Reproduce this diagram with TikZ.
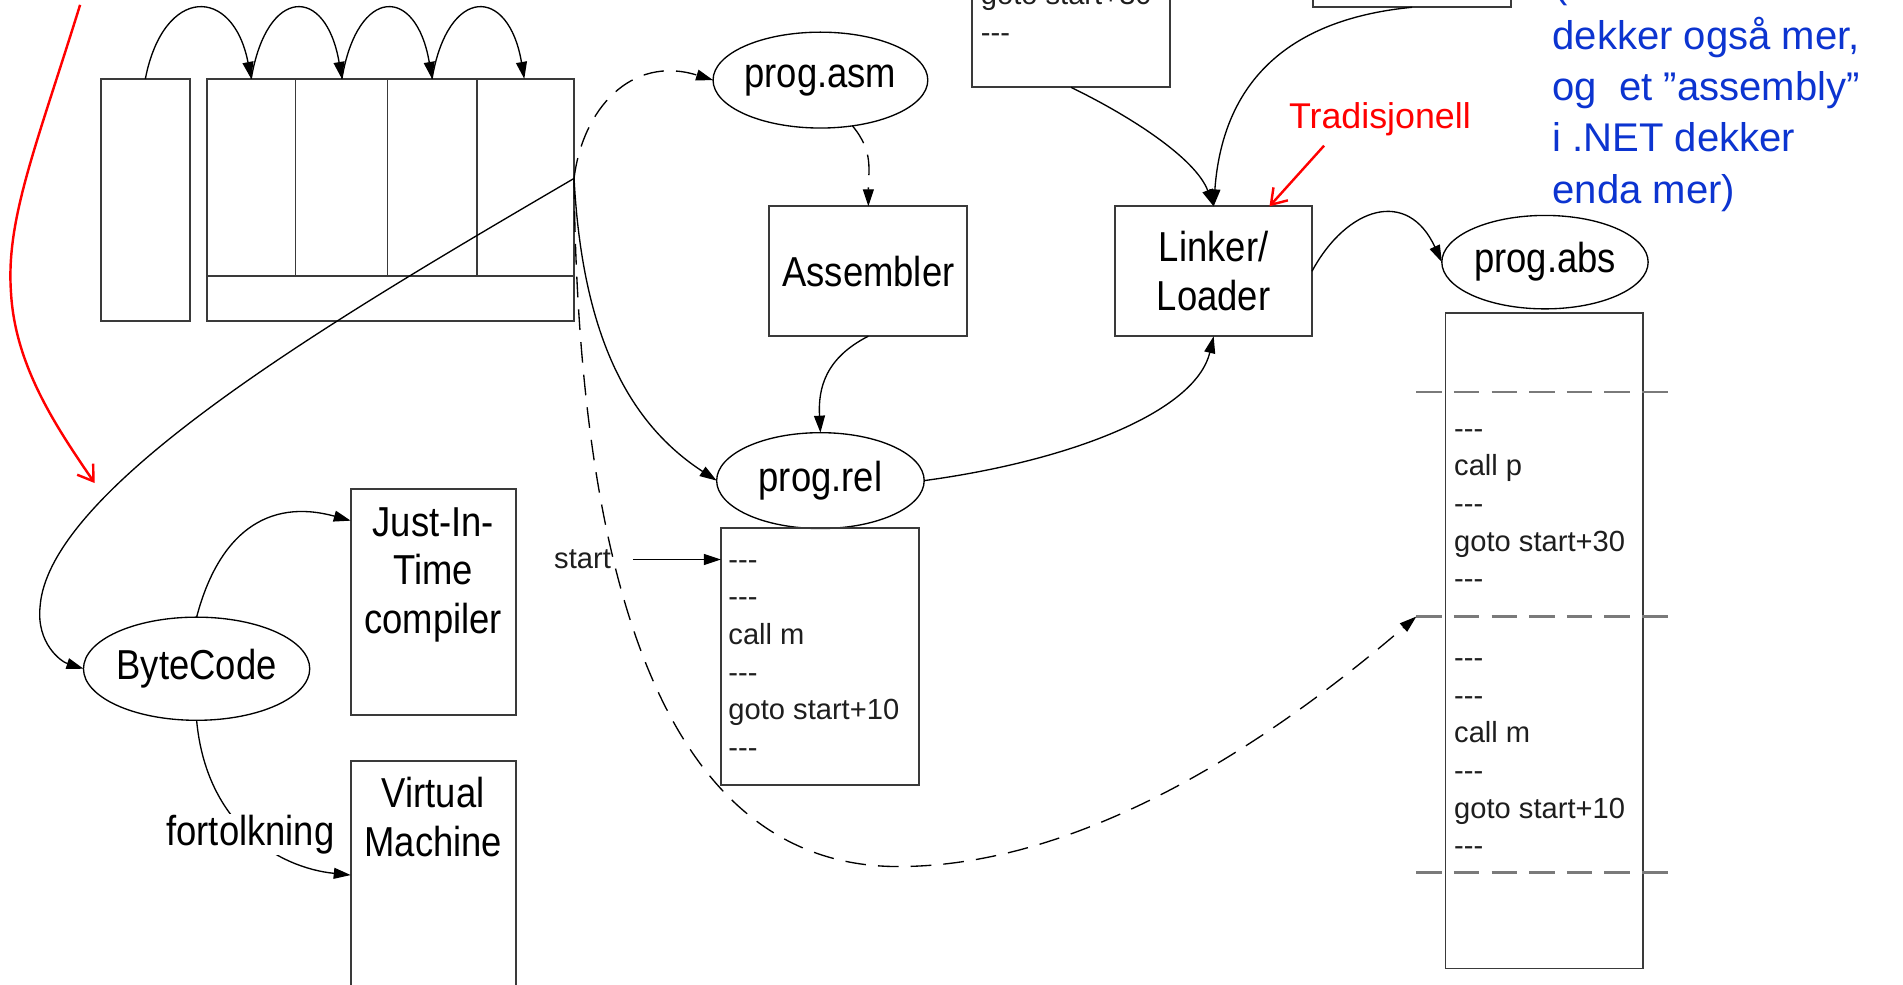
\documentclass[tikz,border=0pt]{standalone}
\usepackage{fontspec}
\setmainfont{Liberation Sans}
\newfontfamily\narrowsans[FakeStretch=0.87]{Liberation Sans}
\newfontfamily\plainsans{Liberation Sans}
\usetikzlibrary{arrows.meta,shapes.geometric,calc}

\definecolor{boxline}{HTML}{3A3A3A}
\definecolor{sepline}{HTML}{7A7A7A}
\definecolor{codetext}{HTML}{1E1E1E}
\definecolor{notered}{RGB}{255,0,0}
\definecolor{noteblue}{RGB}{12,52,208}

% three separate hyphens, kept apart so they never merge into a dash
\newcommand\tripledash{-\kern0pt-\kern0pt-}

\begin{document}
\begin{tikzpicture}[x=1pt,y=-1pt,
  box/.style={draw=boxline,line width=1.6pt,inner sep=0pt,outer sep=0pt},
  lbl/.style={font=\narrowsans\fontsize{34.5}{40}\selectfont,align=center,inner sep=0pt},
  proc/.style={box,lbl},
  file/.style={ellipse,draw=black,line width=1.1pt,inner sep=0pt,outer sep=0pt,
    font=\narrowsans\fontsize{34.5}{40}\selectfont},
  code/.style={anchor=base west,inner sep=0pt,text=codetext,
    font=\plainsans\fontsize{24}{31}\selectfont},
  divider/.style={draw=boxline,line width=1.6pt},
  conn/.style={draw=black,line width=1.1pt},
  arr/.style={conn,-{Triangle[length=14pt,width=9pt]}},
  darr/.style={arr,dash pattern=on 17pt off 10pt},
  sep/.style={draw=sepline,line width=2.2pt,dash pattern=on 21pt off 10pt},
  redarr/.style={draw=notered,line width=2pt,-{Straight Barb[length=12pt,width=16pt]}},
  note/.style={anchor=base west,inner sep=0pt,text=noteblue,
    font=\plainsans\fontsize{33}{42}\selectfont},
  rednote/.style={anchor=base,inner sep=0pt,text=notered,
    font=\plainsans\fontsize{29.5}{34}\selectfont},
  edgelbl/.style={fill=white,inner sep=1pt,font=\narrowsans\fontsize{34.5}{40}\selectfont},
]
\useasboundingbox (0,0) rectangle (1568,811);
\fill[white] (0,0) rectangle (1568,811);

% ---------------- memory block with its slots ----------------
\node[box,minimum width=73.5pt,minimum height=199.5pt] (memL) at (119.75,164.75) {};
\node[box,minimum width=302.5pt,minimum height=199.5pt] (memR) at (321.75,164.75) {};
\draw[divider] (170.5,227.6) -- (473,227.6);
\foreach \x in {243.5,319.3,392.8}
  \draw[divider] (\x,65) -- (\x,227.6);

\coordinate (slot1) at (207,65);
\coordinate (slot2) at (281.7,65);
\coordinate (slot3) at (356,65);
\coordinate (slot4) at (432,65);
\coordinate (tap) at ($(memR.north east)+(0,82)$);

\draw[arr] (memL.north) .. controls +(15,-77) and +(-15,-77) .. (slot1);
\draw[arr] (slot1) .. controls +(13,-77) and +(-13,-77) .. (slot2);
\draw[arr] (slot2) .. controls +(13,-77) and +(-13,-77) .. (slot3);
\draw[arr] (slot3) .. controls +(13,-77) and +(-13,-77) .. (slot4);

% ---------------- compile / link chain ----------------
\node[file,minimum width=170pt,minimum height=79pt] (asm) at (676,66) {prog.asm};
\node[proc,minimum width=163pt,minimum height=107pt] (assembler) at (715.5,223.5) {Assembler};
\node[file,minimum width=171pt,minimum height=79pt] (rel) at (676,396) {prog.rel};
\node[box,minimum width=163pt,minimum height=212pt] (relcode) at (675.5,541) {};
\node[proc,minimum width=162pt,minimum height=107pt] (linker) at (1000,223.5) {Linker/\\Loader};
\node[file,minimum width=170pt,minimum height=77pt] (abs) at (1273,216) {prog.abs};
\node[box,minimum width=163pt,minimum height=540pt] (abscode) at (1272.5,528) {};
\node[box,minimum width=163pt,minimum height=172pt] (modp) at (882.5,-14) {};
\node[box,minimum width=163pt,minimum height=106pt] (modq) at (1163.5,-47) {};

% code listings
\foreach \t [count=\i] in {\tripledash,\tripledash,call m,\tripledash,goto start+10,\tripledash}
  \node[code] (relline\i) at ($(relcode.north west)+(6,3+31*\i)$) {\t};
\foreach \t [count=\i] in {\tripledash,call p,\tripledash,goto start+30,\tripledash}
  \node[code] (absa\i) at ($(abscode.north west)+(7,72+31*\i)$) {\t};
\foreach \t [count=\i] in {\tripledash,\tripledash,call m,\tripledash,goto start+10,\tripledash}
  \node[code] (absb\i) at ($(abscode.north west)+(7,261+31*\i)$) {\t};
\node[code] (modpgoto) at ($(modp.south west)+(7,-68)$) {goto start+30};
\node[code] (modpend) at ($(modp.south west)+(7,-37)$) {\tripledash};

% module boundaries in the loaded program
\coordinate (absseptop) at ($(abscode.north west)+(-24,65)$);
\coordinate (abssepmid) at ($(abscode.north west)+(-24,250)$);
\coordinate (abssepbot) at ($(abscode.north west)+(-24,461)$);
\draw[sep] (absseptop) -- ($(abscode.north east)+(20,65)$);
\draw[sep] (abssepmid) -- ($(abscode.north east)+(20,250)$);
\draw[sep] (abssepbot) -- ($(abscode.north east)+(20,461)$);

% start marker
\node[code,anchor=center] (startlbl) at (480,461) {start};
\draw[arr] ($(startlbl.east)+(18,0)$) -- ($(relcode.north west)+(0,26)$);

% connectors of the chain
\draw[darr] (tap) .. controls (480,90) and (520,45) .. (asm.west);
\draw[darr] (asm.-55) .. controls (720,125) and (715.5,140) .. (assembler.north);
\draw[arr] (assembler.south) .. controls (680,295) and (674,320) .. (rel.north);
\draw[arr] (tap) .. controls (480,280) and (520,350) .. (rel.west);
\draw[arr] (rel.east) .. controls (880,380) and (985,340) .. (linker.south);
\draw[arr] (modp.south) .. controls (930,95) and (985,130) .. (linker.north);
\draw[arr] (modq.south) .. controls (1070,15) and (1008,60) .. (linker.north);
\draw[arr] (linker.east) .. controls (1110,170) and (1160,155) .. (abs.west);
\draw[darr] (tap) .. controls (476,460) and (540,714) .. (740,714)
  .. controls (900,714) and (1060,600) .. (abssepmid);

% ---------------- byte code branch ----------------
\node[file,minimum width=185pt,minimum height=85pt] (bc) at (162,551) {ByteCode};
\node[box,minimum width=136pt,minimum height=186pt] (jit) at (357,496) {};
\node[lbl] (jittext) at (357,473.5) {Just-In-\\Time\\compiler};
\node[box,minimum width=136pt,minimum height=240pt] (vm) at (357,747) {};
\node[lbl] (vmtext) at (357,673) {Virtual\\Machine};

\draw[arr] (tap) .. controls (280,260) and (40,400) .. (33,500)
  .. controls (30,530) and (50,545) .. (bc.west);
\draw[arr] (bc.north) .. controls (180,440) and (220,410) .. ($(jit.north west)+(0,26)$);
\draw[arr] (bc.south) .. controls (170,680) and (230,715) .. ($(vm.north west)+(0,94)$)
  node[edgelbl,pos=0.5] (interp) {fortolkning};

% ---------------- notes ----------------
\coordinate (redtail) at (66,4);
\coordinate (redtip) at (78,398);
\draw[redarr] (redtail) .. controls (30,120) and (5,180) .. (9,240)
  .. controls (12,300) and (45,350) .. (redtip);

\node[rednote] (trad) at (1137,105.7) {Tradisjonell};
\coordinate (tradtail) at (1091,120);
\draw[redarr] (tradtail) -- ($(linker.north east)+(-35,0)$);

\node[note] (blue0) at (1281,-1.7) {(};
\node[note] (blue1) at (1279,40.6) {dekker også mer,};
\node[note] (blue2) at (1279,82.9) {og~ et ”assembly”};
\node[note] (blue3) at (1279,125.2) {i .NET dekker};
\node[note] (blue4) at (1279,167.5) {enda mer)};
\end{tikzpicture}
\end{document}
